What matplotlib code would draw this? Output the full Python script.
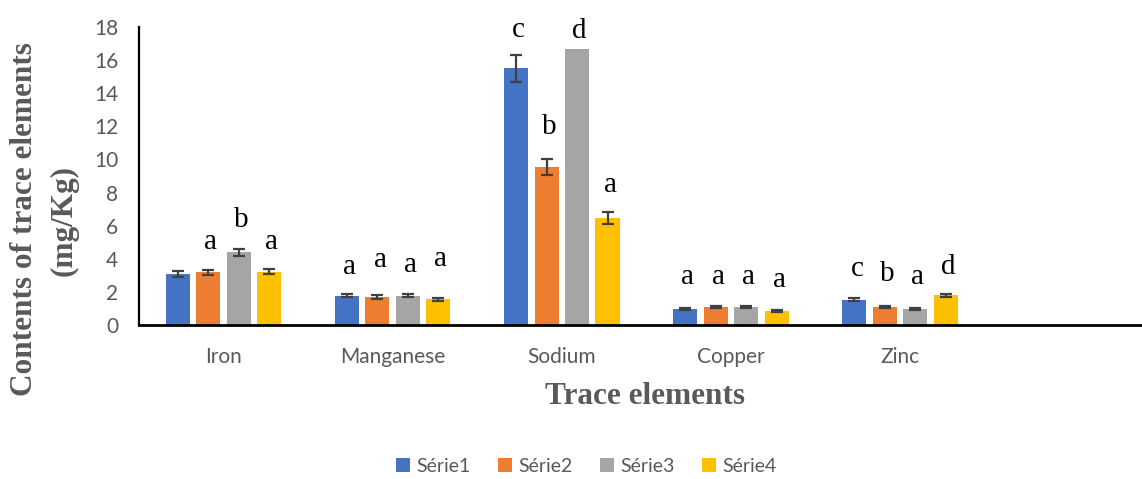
import matplotlib
matplotlib.use('Agg')
import matplotlib.pyplot as plt
import numpy as np

# data
elements = ['Iron', 'Manganese', 'Sodium', 'Copper', 'Zinc']
series_names = ['Série1', 'Série2', 'Série3', 'Série4']
serie1 = [3.10, 1.77, 15.5, 0.97, 1.53]
serie2 = [3.18, 1.69, 9.56, 1.09, 1.07]
serie3 = [4.39, 1.77, 16.65, 1.09, 0.95]
serie4 = [3.23, 1.55, 6.48, 0.87, 1.79]
err1 = [0.17, 0.10, 0.79, 0.06, 0.08]
err2 = [0.17, 0.13, 0.48, 0.06, 0.06]
err3 = [0.20, 0.10, np.nan, 0.06, 0.06]
err4 = [0.17, 0.08, 0.35, 0.06, 0.08]

# significance letters and the height where each sits
letters1 = ['', 'a', 'c', 'a', 'c']
letters2 = ['a', 'a', 'b', 'a', 'b']
letters3 = ['b', 'a', 'd', 'a', 'a']
letters4 = ['a', 'a', 'a', 'a', 'd']
letter_y1 = [0, 2.72, 17.05, 2.1, 2.6]
letter_y2 = [4.23, 3.14, 11.17, 2.1, 2.3]
letter_y3 = [5.56, 2.84, 17.0, 2.1, 2.1]
letter_y4 = [4.23, 3.2, 7.67, 1.93, 2.72]

colors = ['#4472C4', '#ED7D31', '#A5A5A5', '#FFC000']
text_gray = '#595959'

values = [serie1, serie2, serie3, serie4]
errors = [err1, err2, err3, err4]
letters = [letters1, letters2, letters3, letters4]
letter_ys = [letter_y1, letter_y2, letter_y3, letter_y4]

fig = plt.figure(figsize=(11.42, 4.79), dpi=100)
ax = fig.add_axes([0.1217, 0.3215, 0.8783, 0.622])

x = np.arange(len(elements))
pitch = 0.18
width = 0.142

for i in range(4):
    pos = x + (i - 1.5) * pitch
    ax.bar(pos, values[i], width=width, color=colors[i], label=series_names[i],
           zorder=2)
    ax.errorbar(pos, values[i], yerr=errors[i], fmt='none', ecolor='#404040',
                elinewidth=1.6, capsize=4.5, capthick=1.6, zorder=3)
    for px, lt, ly in zip(pos, letters[i], letter_ys[i]):
        if lt:
            ax.text(px + 0.015, ly, lt, ha='center', va='bottom',
                    fontsize=21, family='Liberation Serif', color='black')

ax.set_xlim(-0.5, 5.43)
ax.set_ylim(0, 18)
ax.set_yticks(range(0, 19, 2))
ax.set_xticks(x)
ax.set_xticklabels(elements)

for side in ['top', 'right']:
    ax.spines[side].set_visible(False)
ax.spines['left'].set_linewidth(1.6)
ax.spines['bottom'].set_linewidth(2.0)
ax.spines['left'].set_color('black')
ax.spines['bottom'].set_color('black')

ax.tick_params(axis='both', length=0, labelsize=15, labelcolor=text_gray)
ax.tick_params(axis='y', pad=15)
ax.tick_params(axis='x', pad=16)
for lab in ax.get_xticklabels() + ax.get_yticklabels():
    lab.set_family('Lato')

# axis titles
fig.text(25 / 1142, 1 - 219 / 479, 'Contents of trace elements', rotation=90,
         ha='center', va='center', fontsize=22.5, fontweight='bold',
         family='Liberation Serif', color=text_gray)
fig.text(64 / 1142, 1 - 220 / 479, '(mg/Kg)', rotation=90,
         ha='center', va='center', fontsize=22.5, fontweight='bold',
         family='Liberation Serif', color=text_gray)
fig.text(645 / 1142, 1 - 397 / 479, 'Trace elements', ha='center', va='center',
         fontsize=22.5, fontweight='bold', family='Liberation Serif',
         color=text_gray)

leg = fig.legend(loc='center', bbox_to_anchor=(586 / 1142, 1 - 466 / 479),
                 ncol=4, frameon=False, handlelength=0.75, handleheight=0.75,
                 handletextpad=0.3, columnspacing=1.4,
                 prop={'family': 'Lato', 'size': 14})
for t in leg.get_texts():
    t.set_color(text_gray)

fig.savefig('out.png', dpi=100)
